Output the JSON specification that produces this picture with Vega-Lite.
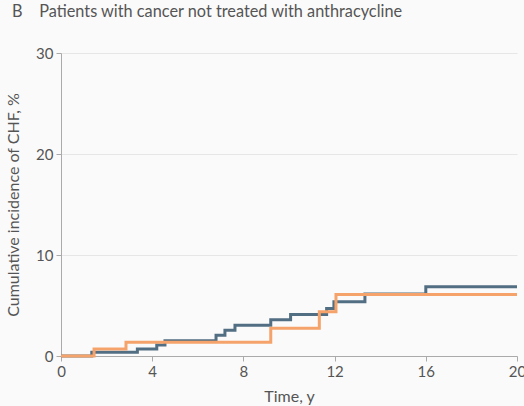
{
  "$schema": "https://vega.github.io/schema/vega-lite/v6.json",
  "width": 456,
  "height": 303,
  "autosize": {"type": "none"},
  "padding": {"left": 61, "top": 53, "right": 7, "bottom": 50},
  "background": "#fafafa",
  "title": {
    "text": "B\u00a0\u00a0\u00a0\u00a0Patients with cancer not treated with anthracycline",
    "anchor": "start",
    "frame": "group",
    "dx": -49,
    "offset": 26,
    "font": "Lato",
    "fontSize": 16.3,
    "fontWeight": "normal",
    "color": "#555555"
  },
  "config": {
    "view": {"stroke": null},
    "font": "Lato"
  },
  "data": {
    "values": [
      {"group": "Cancer", "t": 0, "ci": 0},
      {"group": "Cancer", "t": 1.35, "ci": 0.37},
      {"group": "Cancer", "t": 3.35, "ci": 0.7},
      {"group": "Cancer", "t": 4.2, "ci": 1.1},
      {"group": "Cancer", "t": 4.56, "ci": 1.52},
      {"group": "Cancer", "t": 6.8, "ci": 2.05},
      {"group": "Cancer", "t": 7.19, "ci": 2.55},
      {"group": "Cancer", "t": 7.63, "ci": 3.05},
      {"group": "Cancer", "t": 9.2, "ci": 3.6},
      {"group": "Cancer", "t": 10.07, "ci": 4.12},
      {"group": "Cancer", "t": 11.65, "ci": 4.71},
      {"group": "Cancer", "t": 11.97, "ci": 5.37},
      {"group": "Cancer", "t": 13.33, "ci": 6.15},
      {"group": "Cancer", "t": 16.0, "ci": 6.86},
      {"group": "Cancer", "t": 20, "ci": 6.86},
      {"group": "Control", "t": 0, "ci": 0},
      {"group": "Control", "t": 1.45, "ci": 0.7},
      {"group": "Control", "t": 2.85, "ci": 1.36},
      {"group": "Control", "t": 9.2, "ci": 2.74},
      {"group": "Control", "t": 11.33, "ci": 4.39},
      {"group": "Control", "t": 12.06, "ci": 6.1},
      {"group": "Control", "t": 20, "ci": 6.1}
    ]
  },
  "mark": {"type": "line", "interpolate": "step-after", "strokeWidth": 3},
  "encoding": {
    "x": {
      "field": "t",
      "type": "quantitative",
      "scale": {"domain": [0, 20], "nice": false},
      "axis": {
        "title": "Time, y",
        "values": [0, 4, 8, 12, 16, 20],
        "grid": false,
        "domainColor": "#aaaaaa",
        "tickColor": "#aaaaaa",
        "tickSize": 5,
        "labelFontSize": 15,
        "labelColor": "#555555",
        "labelPadding": 3,
        "labelFlush": false,
        "titleFontSize": 16,
        "titleFontWeight": "normal",
        "titleColor": "#555555",
        "titlePadding": 9
      }
    },
    "y": {
      "field": "ci",
      "type": "quantitative",
      "scale": {"domain": [0, 30], "nice": false},
      "axis": {
        "title": "Cumulative incidence of CHF, %",
        "values": [0, 10, 20, 30],
        "grid": true,
        "gridColor": "#e6e6e6",
        "domainColor": "#aaaaaa",
        "tickColor": "#aaaaaa",
        "tickSize": 5,
        "labelFontSize": 15,
        "labelColor": "#555555",
        "labelPadding": 3,
        "titleFontSize": 16,
        "titleFontWeight": "normal",
        "titleColor": "#555555",
        "titlePadding": 14
      }
    },
    "color": {
      "field": "group",
      "type": "nominal",
      "scale": {"domain": ["Control", "Cancer"], "range": ["#f5a36a", "#526e82"]},
      "legend": null
    },
    "order": {"field": "group", "sort": "descending"}
  }
}
